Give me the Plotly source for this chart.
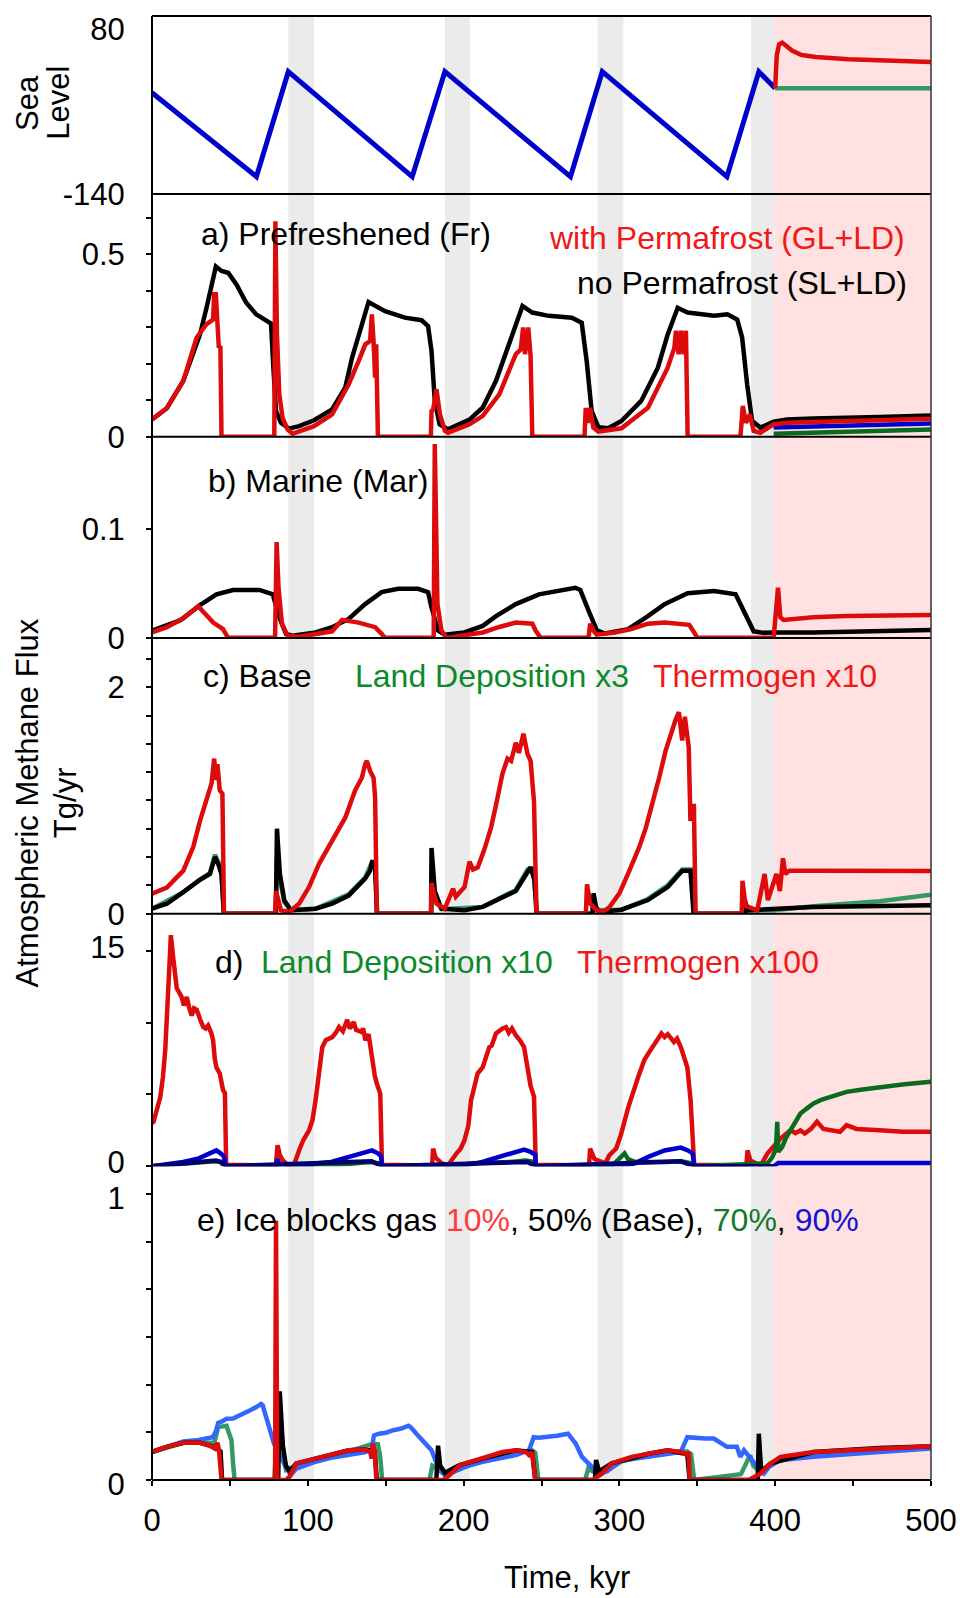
import plotly.graph_objects as go

FONT = "Liberation Sans, Arial, sans-serif"
RED = "#dd0b0b"
BLACK = "#000000"
BLUE = "#0000cc"
NAVY = "#00006e"
SEAGREEN = "#339966"
DKGREEN = "#0a6a1e"
LTBLUE = "#3366ff"

# ---------------- data (time in kyr) ----------------
# glacial sea-level cycle, m
sea_level = [(0, -5), (67, -117), (87.5, 23), (167, -117), (188, 23), (268.6, -117),
             (289, 23), (369, -117), (389.5, 23), (400, 1)]
sea_open = [(400, 1), (500, 1)]
sea_perm = [(400, 1), (401, 45), (402.5, 59.6), (404.5, 61.7), (408, 56), (411, 50.7),
            (417, 45.3), (426, 42.7), (447, 39.6), (468, 38.3), (500, 36)]

# a) prefreshened
a_nopf = [(0, 0.047), (9.5, 0.078), (20.1, 0.153), (26.5, 0.226), (30.8, 0.28), (35, 0.353),
          (38.2, 0.417), (41, 0.466), (44.6, 0.454), (48.9, 0.449), (54.2, 0.417), (60.5, 0.367),
          (66.9, 0.335), (73.2, 0.32), (76.4, 0.31), (77.9, 0.19), (79.6, 0.07), (82.8, 0.038),
          (88, 0.022), (94.4, 0.029), (104, 0.045), (115.6, 0.075), (124, 0.134), (128.4, 0.216),
          (132.6, 0.28), (136.9, 0.344), (139, 0.369), (149.6, 0.344), (162.3, 0.326), (173, 0.319),
          (177.2, 0.303), (179.4, 0.235), (181.5, 0.098), (184.6, 0.034), (190, 0.02), (203.8, 0.047),
          (212.3, 0.08), (220.8, 0.153), (229.3, 0.253), (233.5, 0.308), (237.8, 0.358), (244.1, 0.34),
          (254.7, 0.331), (269.5, 0.326), (275.8, 0.312), (279, 0.207), (282.2, 0.07), (286.5, 0.026),
          (292.8, 0.023), (301.3, 0.043), (314, 0.098), (324.7, 0.189), (331, 0.28), (337.4, 0.353),
          (343.8, 0.34), (360.8, 0.331), (369.3, 0.335), (375.6, 0.321), (378.8, 0.271), (382, 0.143),
          (385.2, 0.043), (390.5, 0.025), (394.7, 0.032), (399, 0.041), (407.5, 0.047), (424.4, 0.05),
          (466.9, 0.054), (500, 0.058)]
a_pf = [(0, 0.047), (9.5, 0.078), (20.1, 0.153), (28.6, 0.271), (35, 0.308), (39.2, 0.321),
        (39.9, 0.39), (41, 0.39), (41.8, 0.326), (42.9, 0.244), (43.9, 0.248), (44.6, 0),
        (78.5, 0), (79.2, 0.59), (80.2, 0.28), (81.7, 0.116), (83.8, 0.052), (87, 0.02),
        (90.2, 0.008), (94.4, 0.014), (104, 0.029), (115.6, 0.061), (126.2, 0.143), (132.6, 0.207),
        (136.9, 0.253), (140, 0.262), (141.1, 0.335), (142.2, 0.262), (143.2, 0.162), (143.9, 0.253),
        (145, 0), (179, 0), (179.4, 0.07), (180.5, 0.075), (182.6, 0.13), (184.8, 0.061),
        (188, 0.016), (190, 0.011), (203.8, 0.034), (212.3, 0.057), (222.9, 0.116), (233.5, 0.226),
        (236.7, 0.239), (238.2, 0.299), (239.4, 0.226), (241.5, 0.299), (243, 0.221), (244.1, 0),
        (277.6, 0), (278.4, 0.079), (279.7, 0.038), (281.2, 0.079), (283.3, 0.025), (286.5, 0.014),
        (301.3, 0.023), (318.3, 0.079), (331, 0.189), (335.3, 0.244), (336.3, 0.29), (338, 0.226),
        (339.5, 0.29), (341.2, 0.226), (342.7, 0.29), (343.8, 0), (377.7, 0), (379.2, 0.084),
        (381.3, 0.038), (383.7, 0.061), (386.2, 0.016), (390.5, 0.011), (399, 0.034), (407.5, 0.038),
        (466.9, 0.045), (500, 0.049)]
a_blue = [(399, 0.025), (430, 0.028), (470, 0.032), (500, 0.036)]
a_green = [(399, 0.008), (430, 0.012), (470, 0.016), (500, 0.02)]

# b) marine
b_nopf = [(0, 0.0067), (18, 0.016), (30.8, 0.03), (41.4, 0.04), (52, 0.044), (69, 0.044),
          (77.5, 0.04), (81.7, 0.019), (86, 0.0037), (90.2, 0.002), (105, 0.005), (115.6, 0.0098),
          (126.2, 0.0174), (136.8, 0.031), (147.4, 0.042), (158, 0.045), (170.8, 0.045), (177.2, 0.042),
          (179.4, 0.028), (183.6, 0.0067), (187.8, 0.003), (200.5, 0.005), (212.3, 0.011), (220.8, 0.02),
          (233.5, 0.031), (248.4, 0.04), (271.7, 0.046), (274.9, 0.044), (280.2, 0.025), (285.5, 0.007),
          (290.8, 0.004), (305.6, 0.008), (318.3, 0.02), (329, 0.031), (343.8, 0.041), (360.8, 0.043),
          (374.6, 0.04), (379.9, 0.025), (386.2, 0.006), (392.6, 0.0046), (399, 0.005), (424.4, 0.005),
          (483.8, 0.0067), (500, 0.0073)]
b_pf = [(0, 0.005), (9.5, 0.0098), (20.1, 0.018), (29.7, 0.029), (32.9, 0.024), (39.3, 0.014),
        (45.6, 0.008), (48.8, 0), (79, 0), (80, 0.088), (81.2, 0.046), (83.4, 0.013), (87, 0.002),
        (94.4, 0.001), (115.6, 0.006), (122, 0.0165), (132.6, 0.014), (143.2, 0.0098), (147.4, 0.0037),
        (149.6, 0), (180.8, 0), (181.5, 0.178), (183.2, 0.031), (185.8, 0.0067), (189, 0),
        (200.5, 0.002), (212.3, 0.005), (222.9, 0.01), (233.5, 0.014), (244.1, 0.013), (246.2, 0.0067),
        (249.4, 0), (280.2, 0), (281.2, 0.013), (283.3, 0.0067), (285.4, 0.003), (297, 0.005),
        (307.6, 0.008), (318.3, 0.013), (328.9, 0.014), (339.5, 0.013), (344.8, 0.012), (348, 0.005),
        (350, 0), (399, 0), (401.8, 0.046), (403.3, 0.019), (405.4, 0.0165), (424.4, 0.019),
        (445.6, 0.02), (500, 0.021)]

# c) base, land deposition x3, thermogenic x10
c_thermo = [(0, 0.176), (9.5, 0.23), (20.1, 0.38), (26.5, 0.59), (30.8, 0.82), (35, 1.0), (38.2, 1.15),
            (39.9, 1.37), (41, 1.18), (42, 1.32), (43.5, 1.09), (45.2, 1.06), (46.2, 0), (79, 0),
            (79.6, 0.2), (82.8, 0.03), (88, 0.015), (94.4, 0.088), (100.8, 0.235), (107.2, 0.44),
            (115.6, 0.65), (124.1, 0.85), (130.4, 1.09), (134.7, 1.2), (136.8, 1.32), (137.9, 1.35),
            (140, 1.26), (142.2, 1.2), (143.2, 1.03), (144.3, 0), (179.1, 0), (179.4, 0.27),
            (182.6, 0.09), (187.9, 0.044), (193.2, 0.22), (195, 0.15), (200.6, 0.235), (203.8, 0.46),
            (206, 0.39), (209.1, 0.41), (213.4, 0.57), (217.6, 0.76), (220.8, 0.96), (225, 1.24),
            (228.2, 1.37), (230.5, 1.35), (233.5, 1.51), (235.5, 1.42), (238.4, 1.59), (241, 1.41),
            (243, 1.35), (245.2, 0.99), (246.8, 0), (278.5, 0), (279.2, 0.26), (281.2, 0.09),
            (285.4, 0.03), (289.7, 0.015), (293.7, 0.06), (300, 0.18), (306.4, 0.38), (312.8, 0.59),
            (317, 0.76), (321.2, 0.97), (325.5, 1.2), (329.7, 1.44), (332.9, 1.59), (336, 1.71),
            (338.2, 1.78), (340.3, 1.53), (342, 1.74), (344.5, 1.47), (345.6, 0.82), (347.8, 0.97),
            (348.9, 0), (378.5, 0), (379, 0.29), (381, 0.07), (388.5, 0.03), (391.7, 0.24),
            (393.2, 0.35), (395.3, 0.12), (399.1, 0.3), (400.8, 0.35), (403, 0.2), (405, 0.49),
            (406.5, 0.35), (409, 0.38), (424.6, 0.38), (467, 0.38), (500, 0.376)]
c_base = [(0, 0.044), (9.5, 0.088), (20.1, 0.19), (30.8, 0.3), (37.2, 0.35), (40.4, 0.5), (42.5, 0.44),
          (44.6, 0.35), (46.2, 0), (79.5, 0), (80.2, 0.75), (82.1, 0.35), (84.9, 0.12), (89.1, 0.03),
          (105, 0.044), (115.6, 0.088), (126.2, 0.16), (136.8, 0.31), (140, 0.38), (141.5, 0.47),
          (143.2, 0.41), (144.4, 0), (179.1, 0), (179.4, 0.58), (181.5, 0.2), (185.7, 0.044),
          (200.5, 0.03), (212.3, 0.06), (233.5, 0.2), (241, 0.38), (243, 0.41), (245.5, 0.3),
          (246.8, 0), (282.8, 0), (283.4, 0.18), (285, 0.06), (287, 0.015), (301.3, 0.035),
          (318.3, 0.12), (331, 0.235), (340.3, 0.38), (345.6, 0.38), (347.6, 0), (379.8, 0),
          (380.5, 0.12), (382.2, 0.03), (399.1, 0.044), (424.6, 0.06), (500, 0.074)]
c_landdep = [(0, 0.044), (20.1, 0.19), (30.8, 0.3), (37.2, 0.36), (40.4, 0.52), (42.5, 0.46),
             (44.6, 0.36), (46, 0), (79.5, 0), (80.2, 0.5), (82.1, 0.3), (85, 0.1), (89.1, 0.03),
             (105, 0.044), (126.2, 0.17), (136.8, 0.32), (141, 0.45), (143.2, 0.42), (144.6, 0),
             (179.3, 0), (179.8, 0.3), (182, 0.12), (186, 0.04), (212.3, 0.06), (233.5, 0.21),
             (241, 0.39), (244.5, 0.4), (247.3, 0), (282.5, 0), (283, 0.1), (285.5, 0.03),
             (301.3, 0.035), (318.3, 0.13), (331, 0.25), (340.3, 0.39), (346, 0.39), (348.5, 0),
             (381, 0), (381.5, 0.08), (383, 0.03), (399, 0.03), (424.6, 0.065), (467, 0.11),
             (500, 0.168)]

# d) land deposition x10, thermogenic x100
d_thermo = [(0, 3.0), (1, 3.1), (3, 3.9), (5.3, 4.8), (7, 6.2), (8.5, 8.1), (10.6, 12.7), (12.1, 16.1),
            (13.8, 14.35), (15.9, 12.4), (17.5, 12.1), (19, 11.8), (20.5, 11.2), (22.3, 11.8),
            (24, 11.0), (25.5, 10.5), (27, 11.0), (28.7, 10.9), (31, 10.2), (32.9, 9.7), (34.5, 9.6),
            (36, 9.8), (38, 9.3), (39.2, 8.78), (40.3, 7.5), (41.3, 6.9), (43.5, 6.46), (44.5, 6.0),
            (45.6, 5.3), (46.8, 5.1), (47.6, 0.1), (79.5, 0.05), (80.6, 1.46), (82, 0.8), (84, 0.4),
            (87, 0.1), (91.3, 0.15), (94.4, 1.1), (97, 1.8), (100.8, 2.5), (103, 3.2), (105, 4.6),
            (107.2, 6.46), (109.3, 8.3), (111.5, 8.78), (115.7, 9.0), (118, 9.3), (120, 9.7),
            (122.5, 9.4), (125.3, 10.2), (127, 9.6), (129.5, 10.05), (131, 9.5), (134.3, 9.36),
            (135.5, 9.6), (137, 8.78), (139, 9.2), (141.2, 7.4), (143, 6.3), (144.3, 5.76),
            (146.5, 5.06), (147.6, 0.1), (179.8, 0.05), (180.4, 1.23), (182, 0.6), (186, 0.2),
            (190, 0.07), (195.5, 0.9), (198, 1.2), (200.5, 1.8), (203, 2.8), (204.8, 4.6), (209, 6.46),
            (212.3, 6.9), (216.5, 8.3), (218, 8.4), (220.8, 9.25), (225, 9.6), (227.2, 9.7),
            (229, 9.3), (231, 9.6), (233.5, 9.13), (236, 8.8), (238.8, 8.3), (240, 7.5), (241, 6.46),
            (243, 5.6), (245.2, 4.83), (246.3, 0.1), (280.5, 0.05), (281.2, 1.23), (284, 0.5),
            (291, 0.2), (293.6, 0.77), (297.9, 1.23), (301, 2.2), (305.7, 4.1), (312, 6.2), (316, 7.4),
            (318.5, 7.85), (322.7, 8.55), (325, 8.9), (327, 9.25), (329, 9.0), (331, 9.2), (335, 8.66),
            (337, 8.9), (339.4, 8.3), (341.5, 7.5), (343.6, 6.9), (345.7, 4.6), (348, 0.1),
            (381.5, 0.05), (382.2, 1.1), (384, 0.4), (390.7, 0.05), (395, 0.88), (399.2, 1.35),
            (403.4, 1.93), (409.8, 2.5), (413, 2.3), (416.2, 2.5), (419, 2.28), (423, 2.6),
            (426.8, 3.1), (431, 2.6), (437, 2.5), (441.6, 2.4), (445.8, 2.86), (452.2, 2.6),
            (467, 2.5), (482, 2.4), (500, 2.4)]
d_landdep = [(0, 0), (20, 0.15), (40, 0.35), (44, 0.3), (46, 0.05), (47.6, 0), (100, 0), (120, 0.1),
             (140, 0.3), (146, 0.2), (147.6, 0), (195, 0), (205, 0.2), (230, 0.3), (240, 0.4),
             (245, 0.3), (246.3, 0), (295, 0), (300, 0.5), (303.3, 0.9), (305.5, 0.5), (310, 0.3),
             (330, 0.3), (340, 0.35), (346, 0.2), (348, 0), (395, 0.2), (398, 0.6), (400.5, 1.2),
             (401.3, 3.1), (402, 1.0), (404.5, 1.35), (407, 2.0), (409.8, 2.5), (413, 3.2),
             (416.2, 3.67), (420, 4.0), (424.6, 4.37), (430, 4.65), (435.2, 4.83), (445.8, 5.18),
             (456, 5.35), (467, 5.53), (483, 5.72), (500, 5.88)]
d_blue = [(0, 0), (20, 0.3), (30, 0.55), (41.3, 1.1), (44, 0.9), (46, 0.7), (47.6, 0), (79.5, 0),
          (80.6, 0.5), (82, 0), (100, 0), (105, 0.2), (115, 0.3), (126, 0.65), (141.2, 1.1),
          (145, 0.9), (147, 0.7), (147.6, 0), (200, 0), (212, 0.3), (222, 0.65), (233.5, 1.0),
          (238.8, 1.16), (243, 1.0), (246, 0.8), (246.3, 0), (300, 0), (310, 0.2), (318.5, 0.65),
          (329, 1.1), (339.4, 1.3), (344, 1.1), (347, 0.9), (348, 0), (399, 0), (402, 0.23),
          (500, 0.23)]
d_base = [(0, 0), (41, 0.4), (44, 0.3), (47.6, 0), (141, 0.35), (147.6, 0), (241, 0.3), (246.3, 0),
          (339, 0.35), (348, 0), (400, 0)]

# e) gas retained by ice blocks: 10 %, 50 % (base), 70 %, 90 %
e_10 = [(0, 0.098), (9.5, 0.116), (20.1, 0.13), (26, 0.132), (30.8, 0.13), (37.2, 0.12), (40.4, 0.11),
        (42, 0.13), (43, 0.105), (44.6, 0), (79, 0), (79.6, 0.907), (80.4, 0), (86, 0), (88.3, 0.012),
        (92.6, 0.058), (105, 0.075), (116, 0.087), (126.3, 0.104), (137, 0.107), (140, 0.098),
        (141, 0.075), (141.8, 0.127), (143, 0.1), (144, 0), (187, 0), (191, 0.017), (197.4, 0.052),
        (212.3, 0.075), (225, 0.098), (233.5, 0.104), (240, 0.098), (242, 0.087), (244, 0.098),
        (246, 0), (283, 0), (288.8, 0.023), (295, 0.058), (307.8, 0.081), (318.5, 0.092),
        (331, 0.104), (339.4, 0.098), (343.6, 0.087), (344.5, 0.098), (345, 0), (383, 0),
        (390.7, 0.023), (397, 0.058), (403.4, 0.081), (424.6, 0.098), (445.8, 0.104), (467, 0.112),
        (500, 0.118)]
e_50 = [(0, 0.098), (9.5, 0.116), (20.1, 0.13), (30.8, 0.13), (40.4, 0.115), (44, 0.1), (45, 0),
        (81, 0), (82, 0.31), (84, 0.12), (86, 0.05), (88.3, 0.03), (92.6, 0.058), (105, 0.075),
        (126.3, 0.104), (137, 0.107), (143, 0.1), (144.3, 0), (182.5, 0), (183.6, 0.12), (185, 0.05),
        (188, 0.025), (197.4, 0.052), (212.3, 0.075), (233.5, 0.104), (244, 0.098), (246, 0),
        (284.3, 0), (285, 0.07), (287, 0.03), (295, 0.058), (318.5, 0.092), (331, 0.104),
        (343.6, 0.09), (345, 0), (388.8, 0), (389.5, 0.162), (391, 0.03), (397, 0.058),
        (424.6, 0.098), (467, 0.112), (500, 0.118)]
e_70 = [(0, 0.098), (20.1, 0.13), (40, 0.13), (42.5, 0.185), (47.8, 0.19), (50, 0.16), (51, 0.139),
        (52, 0.06), (53, 0), (78.5, 0), (79.5, 0.1), (80.5, 0.2), (82, 0.12), (86, 0.035),
        (92.6, 0.05), (105, 0.07), (126.3, 0.1), (141.8, 0.127), (145, 0.125), (146.5, 0.08),
        (147.7, 0), (178, 0), (180, 0.05), (183, 0.04), (188, 0.017), (200.5, 0.046),
        (212.3, 0.07), (233.5, 0.095), (244, 0.104), (246, 0.095), (247, 0.06), (248, 0),
        (278, 0), (280, 0.04), (283, 0.03), (288, 0.02), (301.5, 0.065), (331, 0.1), (343.6, 0.1),
        (346, 0.09), (348, 0), (378, 0.02), (383.9, 0.087), (386, 0.05), (390, 0.03), (395, 0.045),
        (403, 0.075), (424.6, 0.09), (467, 0.105), (500, 0.112)]
e_90 = [(0, 0.098), (9.5, 0.116), (20.1, 0.135), (30, 0.14), (39, 0.15), (41, 0.17), (42.5, 0.2),
        (45, 0.205), (47.8, 0.214), (52, 0.215), (56.3, 0.225), (60, 0.235), (62.7, 0.243),
        (67, 0.255), (70, 0.266), (71, 0.262), (74.5, 0.2), (78.3, 0.127), (82.6, 0.08),
        (86.8, 0.035), (89, 0.017), (92.6, 0.04), (105, 0.064), (116, 0.079), (137, 0.098),
        (141, 0.11), (141.8, 0.127), (142.5, 0.156), (145.7, 0.162), (150, 0.165), (154, 0.173),
        (160, 0.18), (164.6, 0.19), (166, 0.185), (170, 0.16), (175, 0.13), (179.4, 0.104),
        (183.5, 0.046), (188, 0.017), (192, 0.025), (200.5, 0.046), (212.3, 0.064), (233.5, 0.087),
        (242, 0.104), (245, 0.15), (248, 0.148), (254.6, 0.15), (260, 0.155), (267, 0.162),
        (272, 0.127), (276, 0.081), (282.3, 0.046), (286.5, 0.023), (292, 0.03), (301.5, 0.069),
        (318.5, 0.081), (339.4, 0.098), (343.6, 0.15), (347, 0.148), (350, 0.15), (355, 0.145),
        (360.6, 0.145), (365, 0.13), (369, 0.116), (375.4, 0.116), (377.6, 0.081), (380, 0.104),
        (384, 0.075), (388.6, 0.046), (392.8, 0.023), (396, 0.046), (403, 0.069), (424.6, 0.081),
        (460, 0.095), (500, 0.11)]

# shaded intervals
gray_bands = [(87.5, 104), (188, 204), (286, 302.5), (384.5, 399.5)]
future_span = (399.5, 500)

# ---------------- figure ----------------
W, H = 969, 1598
L, R, T, B = 152, 32, 15, 118
PH = H - T - B  # plot height in px


def py(Y):
    return (H - B - Y) / PH


def px(X):
    return (X - L) / (W - L - R)


def dom(top, bottom):
    return [py(bottom), py(top)]


fig = go.Figure()


def add(series, axis, color, width=4.5):
    t = [p[0] for p in series]
    v = [p[1] for p in series]
    fig.add_trace(go.Scatter(x=t, y=v, xaxis="x", yaxis=axis, mode="lines",
                             line=dict(color=color, width=width),
                             hoverinfo="skip", showlegend=False))


add(sea_level, "y", BLUE, 5)
add(sea_open, "y", SEAGREEN, 4.5)
add(sea_perm, "y", RED, 4.5)

add(a_green, "y2", DKGREEN)
add(a_blue, "y2", BLUE)
add(a_nopf, "y2", BLACK)
add(a_pf, "y2", RED)

add(b_nopf, "y3", BLACK)
add(b_pf, "y3", RED)

add(c_landdep, "y4", SEAGREEN)
add(c_base, "y4", BLACK)
add(c_thermo, "y4", RED)

add(d_thermo, "y5", RED)
add(d_landdep, "y5", DKGREEN)
add(d_blue, "y5", BLUE)
add(d_base, "y5", NAVY)

add(e_70, "y6", SEAGREEN)
add(e_90, "y6", LTBLUE)
add(e_50, "y6", BLACK)
add(e_10, "y6", RED)

tickfont = dict(family=FONT, size=31, color="black")
yax_common = dict(anchor="x", showgrid=False, zeroline=False, showline=False,
                  ticks="outside", ticklen=5, tickwidth=1.5, tickcolor="black",
                  tickfont=tickfont, ticklabelstandoff=15, fixedrange=True)


def minor(d):
    return dict(tick0=0, dtick=d, ticks="outside", ticklen=5, tickwidth=1.5,
                tickcolor="black", showgrid=False)


layout = dict(
    width=W, height=H,
    margin=dict(l=L, r=R, t=T, b=B),
    paper_bgcolor="white", plot_bgcolor="white",
    font=dict(family=FONT, size=31, color="black"),
    xaxis=dict(domain=[0, 1], range=[0, 500], anchor="y6", tick0=0, dtick=100,
               ticks="outside", ticklen=5, tickwidth=1.5, tickcolor="black",
               minor=minor(50), showgrid=False, zeroline=False, showline=False,
               tickfont=tickfont, ticklabelstandoff=8, fixedrange=True),
    yaxis=dict(domain=dom(15, 193), range=[-140, 97.3], tickmode="array",
               tickvals=[-140, 80], ticktext=["-140", "80"],
               **{**yax_common, "tickcolor": "rgba(0,0,0,0)"}),
    yaxis2=dict(domain=dom(193, 436), range=[0, 0.665], tick0=0, dtick=0.5,
                minor=minor(0.1), **yax_common),
    yaxis3=dict(domain=dom(436, 637.3), range=[0, 0.1847], tick0=0, dtick=0.1, **yax_common),
    yaxis4=dict(domain=dom(637.3, 913.3), range=[0, 2.436], tick0=0, dtick=2,
                minor=minor(0.25), **yax_common),
    yaxis5=dict(domain=dom(913.3, 1166), range=[0, 17.6], tick0=0, dtick=15,
                minor=minor(5), ticklabelshift=-4, **yax_common),
    yaxis6=dict(domain=dom(1166, 1480), range=[0, 1.098], tick0=0, dtick=1,
                minor=minor(1 / 6), ticklabelshift=4, **yax_common),
)
fig.update_layout(**layout)

shapes = []
for x0, x1 in gray_bands:
    shapes.append(dict(type="rect", xref="x", yref="paper", x0=x0, x1=x1, y0=0, y1=1,
                       fillcolor="#ebebeb", line=dict(width=0), layer="below"))
shapes.append(dict(type="rect", xref="x", yref="paper", x0=future_span[0], x1=future_span[1],
                   y0=0, y1=1, fillcolor="#ffe1e1", line=dict(width=0), layer="below"))
# panel frame and separators (no separator between d and e)
for Y in [15, 193, 436, 637.3, 913.3, 1480]:
    shapes.append(dict(type="line", xref="paper", yref="paper", x0=0, x1=1, y0=py(Y), y1=py(Y),
                       line=dict(color="black", width=2), layer="above"))
shapes.append(dict(type="line", xref="paper", yref="paper", x0=0, x1=0, y0=0, y1=1,
                   line=dict(color="black", width=2), layer="above"))
shapes.append(dict(type="line", xref="paper", yref="paper", x0=1, x1=1, y0=0, y1=1,
                   line=dict(color="#333333", width=1.5), layer="above"))
fig.update_layout(shapes=shapes)

TXT_RED = "#f01818"
TXT_GREEN = "#0a8a2a"


def note(text, X, Y, color="black", anchor="left", size=32, angle=0):
    fig.add_annotation(text=text, xref="paper", yref="paper", x=px(X), y=py(Y),
                       xanchor=anchor, yanchor="middle", showarrow=False, textangle=angle,
                       font=dict(family=FONT, size=size, color=color))


note("a) Prefreshened (Fr)", 199, 233)
note("with Permafrost (GL+LD)", 913, 237, TXT_RED, "right")
note("no Permafrost (SL+LD)", 915, 282, "black", "right")
note("b) Marine (Mar)", 206, 480)
note("c) Base", 201, 675)
note("Land Deposition x3", 355, 675, TXT_GREEN)
note("Thermogen x10", 655, 675, TXT_RED)
note("d)", 213, 962)
note("Land Deposition x10", 260, 962, TXT_GREEN)
note("Thermogen x100", 578, 962, TXT_RED)
note("e) Ice blocks gas <span style='color:#ff3c3c'>10%</span>, 50% (Base), "
     "<span style='color:#117a2a'>70%</span>, <span style='color:#1414d0'>90%</span>", 195, 1220)

# rotated axis titles
note("Sea", 27, 102, anchor="center", size=31, angle=-90)
note("Level", 58, 102, anchor="center", size=31, angle=-90)
note("Atmospheric Methane Flux", 26, 802, anchor="center", size=31, angle=-90)
note("Tg/yr", 65, 802, anchor="center", size=31, angle=-90)
note("Time, kyr", 570, 1578, anchor="center", size=31)

fig.write_html("out.html")
